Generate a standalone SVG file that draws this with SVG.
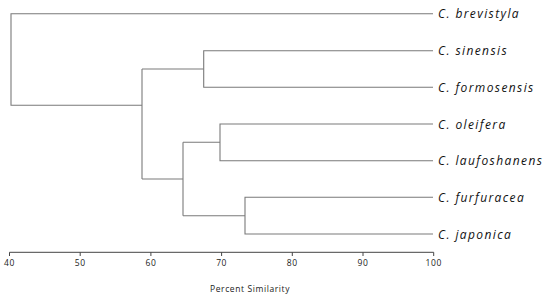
<svg xmlns="http://www.w3.org/2000/svg" width="550" height="299" viewBox="0 0 550 299">
<style>
.l{fill:none;stroke:#7a7a7a;stroke-width:1.1}
.ax{fill:none;stroke:#444;stroke-width:1}
.sp{font-family:"Open Sans","DejaVu Sans",sans-serif;font-style:italic;font-size:12px;letter-spacing:1.4px;fill:#111}
.tk{font-family:"Open Sans","DejaVu Sans",sans-serif;font-size:8.5px;letter-spacing:0.6px;fill:#222;text-anchor:middle}
</style>
<rect width="550" height="299" fill="#fff"/>
<g id="connectors">
<path class="l" d="M433,13.7H11V105.3H142"/>
<path class="l" d="M142,69V179"/>
<path class="l" d="M142,69H203.7"/>
<path class="l" d="M433,50.7H203.7V87.3H433"/>
<path class="l" d="M142,179H183"/>
<path class="l" d="M183,142.3V215.7"/>
<path class="l" d="M183,142.3H220"/>
<path class="l" d="M433,124H220V160.7H433"/>
<path class="l" d="M183,215.7H245"/>
<path class="l" d="M433,197.3H245V234H433"/>
</g>
<g id="leaf-brevistyla"><text class="sp" x="438" y="18.3">C. brevistyla</text></g>
<g id="leaf-sinensis"><text class="sp" x="438" y="55.3">C. sinensis</text></g>
<g id="leaf-formosensis"><text class="sp" x="438" y="92">C. formosensis</text></g>
<g id="leaf-oleifera"><text class="sp" x="438" y="128.7">C. oleifera</text></g>
<g id="leaf-laufoshanens"><text class="sp" x="438" y="165.3">C. laufoshanens</text></g>
<g id="leaf-furfuracea"><text class="sp" x="438" y="202">C. furfuracea</text></g>
<g id="leaf-japonica"><text class="sp" x="438" y="238.7">C. japonica</text></g>
<g id="axis">
<path class="ax" d="M9.5,252.3H433.7M9.5,252.3V256M80.2,252.3V256M150.9,252.3V256M221.6,252.3V256M292.3,252.3V256M363,252.3V256M433.7,252.3V256"/>
<text class="tk" x="9.5" y="266">40</text>
<text class="tk" x="80.2" y="266">50</text>
<text class="tk" x="150.9" y="266">60</text>
<text class="tk" x="221.6" y="266">70</text>
<text class="tk" x="292.3" y="266">80</text>
<text class="tk" x="363" y="266">90</text>
<text class="tk" x="433.7" y="266">100</text>
<text class="tk" x="250" y="291.5">Percent Similarity</text>
</g>
</svg>
